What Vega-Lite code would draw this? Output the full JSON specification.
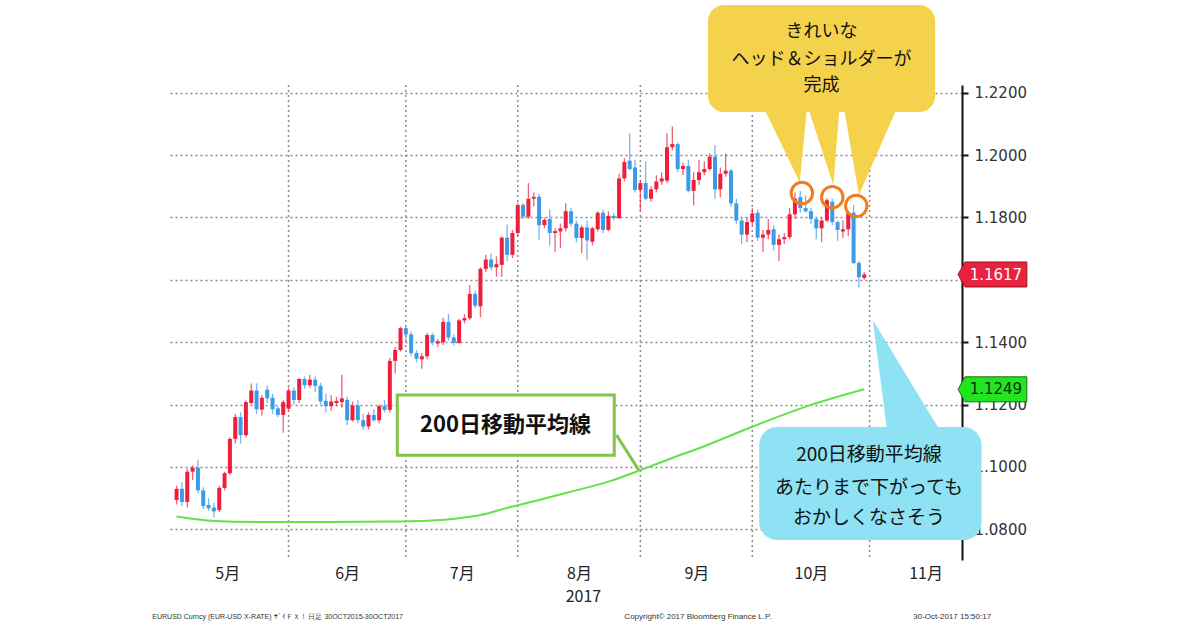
{
  "$schema": "https://vega.github.io/schema/vega-lite/v6.json",
  "width": 792,
  "height": 475,
  "autosize": {"type": "none"},
  "padding": {"left": 170, "top": 85, "right": 238, "bottom": 70},
  "background": "white",
  "config": {
    "view": {"stroke": null},
    "axisX": {
      "ticks": false, "domain": false, "grid": false,
      "labelFont": "Noto Sans CJK JP", "labelFontSize": 16, "labelColor": "#222",
      "labelPadding": 5, "labelFlush": false, "labelOverlap": false,
      "titleFont": "Noto Sans CJK JP", "titleFontSize": 16,
      "titleFontWeight": "normal", "titleColor": "#222", "titlePadding": 7, "titleX": 413
    },
    "axisY": {
      "grid": true, "gridDash": [2, 3], "gridColor": "#8a8a8a", "gridWidth": 1.5,
      "domainColor": "#111", "domainWidth": 2, "tickColor": "#111", "tickSize": 6, "tickWidth": 2,
      "labelFont": "DejaVu Sans", "labelFontSize": 15, "labelColor": "#333", "labelPadding": 6
    }
  },
  "datasets": {
    "candles": [
      {"k":1,"d":"2017-05-02","o":1.0894,"h":1.0940,"l":1.0880,"c":1.0930},
      {"k":2,"d":"2017-05-03","o":1.0930,"h":1.0950,"l":1.0875,"c":1.0888},
      {"k":3,"d":"2017-05-04","o":1.0888,"h":1.0995,"l":1.0870,"c":1.0985},
      {"k":4,"d":"2017-05-05","o":1.0985,"h":1.1005,"l":1.0958,"c":1.0998},
      {"k":5,"d":"2017-05-08","o":1.0998,"h":1.1023,"l":1.0915,"c":1.0925},
      {"k":6,"d":"2017-05-09","o":1.0925,"h":1.0935,"l":1.0865,"c":1.0875},
      {"k":7,"d":"2017-05-10","o":1.0878,"h":1.0900,"l":1.0860,"c":1.0868},
      {"k":8,"d":"2017-05-11","o":1.0870,"h":1.0885,"l":1.0838,"c":1.0858},
      {"k":9,"d":"2017-05-12","o":1.0862,"h":1.0940,"l":1.0855,"c":1.0933},
      {"k":10,"d":"2017-05-15","o":1.0933,"h":1.0985,"l":1.0925,"c":1.0980},
      {"k":11,"d":"2017-05-16","o":1.0980,"h":1.1095,"l":1.0975,"c":1.1090},
      {"k":12,"d":"2017-05-17","o":1.1090,"h":1.1170,"l":1.1075,"c":1.1160},
      {"k":13,"d":"2017-05-18","o":1.1160,"h":1.1175,"l":1.1075,"c":1.1102},
      {"k":14,"d":"2017-05-19","o":1.1102,"h":1.1213,"l":1.1095,"c":1.1208},
      {"k":15,"d":"2017-05-22","o":1.1205,"h":1.1268,"l":1.1200,"c":1.1245},
      {"k":16,"d":"2017-05-23","o":1.1245,"h":1.1268,"l":1.1170,"c":1.1185},
      {"k":17,"d":"2017-05-24","o":1.1184,"h":1.1230,"l":1.1165,"c":1.1222},
      {"k":18,"d":"2017-05-25","o":1.1248,"h":1.1262,"l":1.1205,"c":1.1220},
      {"k":19,"d":"2017-05-26","o":1.1222,"h":1.1235,"l":1.1170,"c":1.1185},
      {"k":20,"d":"2017-05-29","o":1.1188,"h":1.1195,"l":1.1160,"c":1.1167},
      {"k":21,"d":"2017-05-30","o":1.1167,"h":1.1215,"l":1.1110,"c":1.1208},
      {"k":22,"d":"2017-05-31","o":1.1187,"h":1.1255,"l":1.1180,"c":1.1245},
      {"k":23,"d":"2017-06-01","o":1.1245,"h":1.1255,"l":1.1200,"c":1.1215},
      {"k":24,"d":"2017-06-02","o":1.1215,"h":1.1285,"l":1.1205,"c":1.1282},
      {"k":25,"d":"2017-06-05","o":1.1282,"h":1.1290,"l":1.1250,"c":1.1262},
      {"k":26,"d":"2017-06-06","o":1.1262,"h":1.1295,"l":1.1255,"c":1.1280},
      {"k":27,"d":"2017-06-07","o":1.1280,"h":1.1290,"l":1.1240,"c":1.1260},
      {"k":28,"d":"2017-06-08","o":1.1260,"h":1.1270,"l":1.1200,"c":1.1210},
      {"k":29,"d":"2017-06-09","o":1.1212,"h":1.1235,"l":1.1175,"c":1.1195},
      {"k":30,"d":"2017-06-12","o":1.1195,"h":1.1230,"l":1.1180,"c":1.1210},
      {"k":31,"d":"2017-06-13","o":1.1205,"h":1.1225,"l":1.1195,"c":1.1212},
      {"k":32,"d":"2017-06-14","o":1.1208,"h":1.1296,"l":1.1190,"c":1.1220},
      {"k":33,"d":"2017-06-15","o":1.1215,"h":1.1225,"l":1.1135,"c":1.1150},
      {"k":34,"d":"2017-06-16","o":1.1150,"h":1.1210,"l":1.1145,"c":1.1197},
      {"k":35,"d":"2017-06-19","o":1.1197,"h":1.1215,"l":1.1140,"c":1.1150},
      {"k":36,"d":"2017-06-20","o":1.1150,"h":1.1170,"l":1.1120,"c":1.1130},
      {"k":37,"d":"2017-06-21","o":1.1130,"h":1.1175,"l":1.1120,"c":1.1167},
      {"k":38,"d":"2017-06-22","o":1.1167,"h":1.1185,"l":1.1145,"c":1.1150},
      {"k":39,"d":"2017-06-23","o":1.1150,"h":1.1200,"l":1.1140,"c":1.1195},
      {"k":40,"d":"2017-06-26","o":1.1195,"h":1.1215,"l":1.1175,"c":1.1183},
      {"k":41,"d":"2017-06-27","o":1.1183,"h":1.1350,"l":1.1175,"c":1.1340},
      {"k":42,"d":"2017-06-28","o":1.1340,"h":1.1385,"l":1.1300,"c":1.1375},
      {"k":43,"d":"2017-06-29","o":1.1375,"h":1.1450,"l":1.1370,"c":1.1445},
      {"k":44,"d":"2017-06-30","o":1.1445,"h":1.1450,"l":1.1405,"c":1.1425},
      {"k":45,"d":"2017-07-03","o":1.1425,"h":1.1435,"l":1.1355,"c":1.1365},
      {"k":46,"d":"2017-07-04","o":1.1365,"h":1.1375,"l":1.1335,"c":1.1347},
      {"k":47,"d":"2017-07-05","o":1.1345,"h":1.1365,"l":1.1315,"c":1.1355},
      {"k":48,"d":"2017-07-06","o":1.1355,"h":1.1430,"l":1.1345,"c":1.1423},
      {"k":49,"d":"2017-07-07","o":1.1423,"h":1.1430,"l":1.1390,"c":1.1400},
      {"k":50,"d":"2017-07-10","o":1.1396,"h":1.1410,"l":1.1385,"c":1.1403},
      {"k":51,"d":"2017-07-11","o":1.1400,"h":1.1478,"l":1.1390,"c":1.1465},
      {"k":52,"d":"2017-07-12","o":1.1465,"h":1.1490,"l":1.1405,"c":1.1415},
      {"k":53,"d":"2017-07-13","o":1.1415,"h":1.1425,"l":1.1390,"c":1.1398},
      {"k":54,"d":"2017-07-14","o":1.1398,"h":1.1475,"l":1.1395,"c":1.1470},
      {"k":55,"d":"2017-07-17","o":1.1470,"h":1.1490,"l":1.1460,"c":1.1477},
      {"k":56,"d":"2017-07-18","o":1.1477,"h":1.1583,"l":1.1470,"c":1.1555},
      {"k":57,"d":"2017-07-19","o":1.1555,"h":1.1565,"l":1.1510,"c":1.1517},
      {"k":58,"d":"2017-07-20","o":1.1515,"h":1.1640,"l":1.1480,"c":1.1635},
      {"k":59,"d":"2017-07-21","o":1.1635,"h":1.1680,"l":1.1625,"c":1.1665},
      {"k":60,"d":"2017-07-24","o":1.1665,"h":1.1685,"l":1.1630,"c":1.1640},
      {"k":61,"d":"2017-07-25","o":1.1640,"h":1.1675,"l":1.1610,"c":1.1650},
      {"k":62,"d":"2017-07-26","o":1.1648,"h":1.1740,"l":1.1610,"c":1.1735},
      {"k":63,"d":"2017-07-27","o":1.1735,"h":1.1777,"l":1.1660,"c":1.1680},
      {"k":64,"d":"2017-07-28","o":1.1680,"h":1.1760,"l":1.1670,"c":1.1750},
      {"k":65,"d":"2017-07-31","o":1.1750,"h":1.1846,"l":1.1740,"c":1.1840},
      {"k":66,"d":"2017-08-01","o":1.1840,"h":1.1845,"l":1.1795,"c":1.1802},
      {"k":67,"d":"2017-08-02","o":1.1802,"h":1.1910,"l":1.1795,"c":1.1860},
      {"k":68,"d":"2017-08-03","o":1.1860,"h":1.1880,"l":1.1835,"c":1.1866},
      {"k":69,"d":"2017-08-04","o":1.1866,"h":1.1875,"l":1.1728,"c":1.1775},
      {"k":70,"d":"2017-08-07","o":1.1775,"h":1.1800,"l":1.1765,"c":1.1792},
      {"k":71,"d":"2017-08-08","o":1.1795,"h":1.1825,"l":1.1710,"c":1.1750},
      {"k":72,"d":"2017-08-09","o":1.1750,"h":1.1765,"l":1.1690,"c":1.1756},
      {"k":73,"d":"2017-08-10","o":1.1755,"h":1.1780,"l":1.1702,"c":1.1765},
      {"k":74,"d":"2017-08-11","o":1.1765,"h":1.1845,"l":1.1755,"c":1.1820},
      {"k":75,"d":"2017-08-14","o":1.1820,"h":1.1830,"l":1.1770,"c":1.1780},
      {"k":76,"d":"2017-08-15","o":1.1780,"h":1.1790,"l":1.1720,"c":1.1734},
      {"k":77,"d":"2017-08-16","o":1.1734,"h":1.1775,"l":1.1685,"c":1.1768},
      {"k":78,"d":"2017-08-17","o":1.1768,"h":1.1790,"l":1.1665,"c":1.1726},
      {"k":79,"d":"2017-08-18","o":1.1722,"h":1.1770,"l":1.1710,"c":1.1765},
      {"k":80,"d":"2017-08-21","o":1.1762,"h":1.1820,"l":1.1755,"c":1.1815},
      {"k":81,"d":"2017-08-22","o":1.1815,"h":1.1825,"l":1.1750,"c":1.1760},
      {"k":82,"d":"2017-08-23","o":1.1760,"h":1.1820,"l":1.1755,"c":1.1805},
      {"k":83,"d":"2017-08-24","o":1.1805,"h":1.1815,"l":1.1790,"c":1.1798},
      {"k":84,"d":"2017-08-25","o":1.1798,"h":1.1940,"l":1.1795,"c":1.1925},
      {"k":85,"d":"2017-08-28","o":1.1925,"h":1.1990,"l":1.1915,"c":1.1978},
      {"k":86,"d":"2017-08-29","o":1.1982,"h":1.2070,"l":1.1950,"c":1.1955},
      {"k":87,"d":"2017-08-30","o":1.1960,"h":1.1985,"l":1.1880,"c":1.1888},
      {"k":88,"d":"2017-08-31","o":1.1888,"h":1.1920,"l":1.1823,"c":1.1910},
      {"k":89,"d":"2017-09-01","o":1.1910,"h":1.1980,"l":1.1855,"c":1.1860},
      {"k":90,"d":"2017-09-04","o":1.1860,"h":1.1900,"l":1.1850,"c":1.1890},
      {"k":91,"d":"2017-09-05","o":1.1890,"h":1.1935,"l":1.1880,"c":1.1915},
      {"k":92,"d":"2017-09-06","o":1.1915,"h":1.1945,"l":1.1905,"c":1.1925},
      {"k":93,"d":"2017-09-07","o":1.1918,"h":1.2070,"l":1.1910,"c":1.2025},
      {"k":94,"d":"2017-09-08","o":1.2025,"h":1.2092,"l":1.2015,"c":1.2035},
      {"k":95,"d":"2017-09-11","o":1.2035,"h":1.2040,"l":1.1945,"c":1.1955},
      {"k":96,"d":"2017-09-12","o":1.1955,"h":1.1975,"l":1.1935,"c":1.1965},
      {"k":97,"d":"2017-09-13","o":1.1965,"h":1.1985,"l":1.1880,"c":1.1885},
      {"k":98,"d":"2017-09-14","o":1.1885,"h":1.1945,"l":1.1838,"c":1.1920},
      {"k":99,"d":"2017-09-15","o":1.1920,"h":1.1985,"l":1.1905,"c":1.1945},
      {"k":100,"d":"2017-09-18","o":1.1945,"h":1.1980,"l":1.1935,"c":1.1955},
      {"k":101,"d":"2017-09-19","o":1.1955,"h":1.2006,"l":1.1950,"c":1.1995},
      {"k":102,"d":"2017-09-20","o":1.1995,"h":1.2032,"l":1.1860,"c":1.1890},
      {"k":103,"d":"2017-09-21","o":1.1890,"h":1.1960,"l":1.1865,"c":1.1940},
      {"k":104,"d":"2017-09-22","o":1.1940,"h":1.2005,"l":1.1930,"c":1.1950},
      {"k":105,"d":"2017-09-25","o":1.1950,"h":1.1955,"l":1.1835,"c":1.1845},
      {"k":106,"d":"2017-09-26","o":1.1845,"h":1.1860,"l":1.1780,"c":1.1790},
      {"k":107,"d":"2017-09-27","o":1.1790,"h":1.1800,"l":1.1715,"c":1.1745},
      {"k":108,"d":"2017-09-28","o":1.1745,"h":1.1800,"l":1.1720,"c":1.1785},
      {"k":109,"d":"2017-09-29","o":1.1785,"h":1.1830,"l":1.1775,"c":1.1813},
      {"k":110,"d":"2017-10-02","o":1.1815,"h":1.1825,"l":1.1725,"c":1.1735},
      {"k":111,"d":"2017-10-03","o":1.1735,"h":1.1760,"l":1.1690,"c":1.1745},
      {"k":112,"d":"2017-10-04","o":1.1745,"h":1.1795,"l":1.1730,"c":1.1760},
      {"k":113,"d":"2017-10-05","o":1.1762,"h":1.1775,"l":1.1695,"c":1.1712},
      {"k":114,"d":"2017-10-06","o":1.1712,"h":1.1745,"l":1.1660,"c":1.1730},
      {"k":115,"d":"2017-10-09","o":1.1730,"h":1.1750,"l":1.1715,"c":1.1737},
      {"k":116,"d":"2017-10-10","o":1.1737,"h":1.1830,"l":1.1730,"c":1.1810},
      {"k":117,"d":"2017-10-11","o":1.1810,"h":1.1880,"l":1.1795,"c":1.1860},
      {"k":118,"d":"2017-10-12","o":1.1865,"h":1.1885,"l":1.1815,"c":1.1830},
      {"k":119,"d":"2017-10-13","o":1.1830,"h":1.1870,"l":1.1815,"c":1.1820},
      {"k":120,"d":"2017-10-16","o":1.1820,"h":1.1830,"l":1.1780,"c":1.1795},
      {"k":121,"d":"2017-10-17","o":1.1795,"h":1.1800,"l":1.1730,"c":1.1765},
      {"k":122,"d":"2017-10-18","o":1.1765,"h":1.1800,"l":1.1720,"c":1.1790},
      {"k":123,"d":"2017-10-19","o":1.1790,"h":1.1862,"l":1.1785,"c":1.1855},
      {"k":124,"d":"2017-10-20","o":1.1850,"h":1.1860,"l":1.1775,"c":1.1785},
      {"k":125,"d":"2017-10-23","o":1.1785,"h":1.1790,"l":1.1725,"c":1.1760},
      {"k":126,"d":"2017-10-24","o":1.1755,"h":1.1790,"l":1.1735,"c":1.1762},
      {"k":127,"d":"2017-10-25","o":1.1762,"h":1.1820,"l":1.1740,"c":1.1815},
      {"k":128,"d":"2017-10-26","o":1.1815,"h":1.1840,"l":1.1650,"c":1.1654},
      {"k":129,"d":"2017-10-27","o":1.1654,"h":1.1660,"l":1.1575,"c":1.1608},
      {"k":130,"d":"2017-10-30","o":1.1606,"h":1.1625,"l":1.1600,"c":1.1617}
    ],
    "ma200": [
      {"k":1,"v":1.0841},{"k":8,"v":1.0827},{"k":17,"v":1.0824},{"k":30,"v":1.0824},
      {"k":41,"v":1.0825},{"k":48,"v":1.0828},{"k":54,"v":1.0836},{"k":58,"v":1.0846},
      {"k":63,"v":1.0869},{"k":69,"v":1.0894},{"k":75,"v":1.0921},{"k":82,"v":1.0953},
      {"k":88,"v":1.0990},{"k":94,"v":1.1029},{"k":99,"v":1.1060},{"k":109,"v":1.1129},
      {"k":120,"v":1.1199},{"k":130,"v":1.1249}
    ],
    "monthEnds": [{"k":22},{"k":44},{"k":65},{"k":88},{"k":109},{"k":131}]
  },
  "layer": [
    {
      "data": {"name": "monthEnds"},
      "mark": {"type": "rule", "strokeDash": [2, 3], "color": "#8a8a8a", "strokeWidth": 1.5},
      "encoding": {
        "x": {"field": "k", "type": "quantitative", "scale": {"domain": [0.7, 147.4], "nice": false, "zero": false},
          "axis": {"values": [10.5, 33, 54.5, 76.5, 98.5, 120, 141.5], "labelExpr": "['5月','6月','7月','8月','9月','10月','11月'][indexof([10.5,33,54.5,76.5,98.5,120,141.5], datum.value)]", "title": "2017"}}
      }
    },
    {
      "data": {"name": "candles"},
      "mark": {"type": "rule", "strokeWidth": 1.3, "opacity": 0.7},
      "encoding": {
        "x": {"field": "k", "type": "quantitative", "scale": {"domain": [0.7, 147.4], "nice": false, "zero": false},
          "axis": {"values": [10.5, 33, 54.5, 76.5, 98.5, 120, 141.5], "labelExpr": "['5月','6月','7月','8月','9月','10月','11月'][indexof([10.5,33,54.5,76.5,98.5,120,141.5], datum.value)]", "title": "2017"}},
        "y": {"field": "l", "type": "quantitative", "scale": {"domain": [1.07019, 1.22244], "nice": false, "zero": false},
          "axis": {"orient": "right", "values": [1.08, 1.10, 1.12, 1.14, 1.16, 1.18, 1.20, 1.22], "labelExpr": "abs(datum.value - 1.16) < 0.001 ? '' : format(datum.value, '.4f')", "title": null}},
        "y2": {"field": "h"},
        "color": {"condition": {"test": "datum.c >= datum.o", "value": "#EE1E3C"}, "value": "#3A9BE8"}
      }
    },
    {
      "data": {"name": "candles"},
      "mark": {"type": "bar", "size": 4},
      "encoding": {
        "x": {"field": "k", "type": "quantitative", "scale": {"domain": [0.7, 147.4], "nice": false, "zero": false},
          "axis": {"values": [10.5, 33, 54.5, 76.5, 98.5, 120, 141.5], "labelExpr": "['5月','6月','7月','8月','9月','10月','11月'][indexof([10.5,33,54.5,76.5,98.5,120,141.5], datum.value)]", "title": "2017"}},
        "y": {"field": "o", "type": "quantitative", "scale": {"domain": [1.07019, 1.22244], "nice": false, "zero": false},
          "axis": {"orient": "right", "values": [1.08, 1.10, 1.12, 1.14, 1.16, 1.18, 1.20, 1.22], "labelExpr": "abs(datum.value - 1.16) < 0.001 ? '' : format(datum.value, '.4f')", "title": null}},
        "y2": {"field": "c"},
        "color": {"condition": {"test": "datum.c >= datum.o", "value": "#EE1E3C"}, "value": "#3A9BE8"}
      }
    },
    {
      "data": {"name": "ma200"},
      "mark": {"type": "line", "color": "#62E24C", "strokeWidth": 2, "interpolate": "monotone"},
      "encoding": {
        "x": {"field": "k", "type": "quantitative", "scale": {"domain": [0.7, 147.4], "nice": false, "zero": false},
          "axis": {"values": [10.5, 33, 54.5, 76.5, 98.5, 120, 141.5], "labelExpr": "['5月','6月','7月','8月','9月','10月','11月'][indexof([10.5,33,54.5,76.5,98.5,120,141.5], datum.value)]", "title": "2017"}},
        "y": {"field": "v", "type": "quantitative", "scale": {"domain": [1.07019, 1.22244], "nice": false, "zero": false},
          "axis": {"orient": "right", "values": [1.08, 1.10, 1.12, 1.14, 1.16, 1.18, 1.20, 1.22], "labelExpr": "abs(datum.value - 1.16) < 0.001 ? '' : format(datum.value, '.4f')", "title": null}}
      }
    },
    {
      "data": {"values": [{"k": 83.5, "v": 1.1103}, {"k": 87.7, "v": 1.0990}]},
      "mark": {"type": "line", "color": "#84C447", "strokeWidth": 3},
      "encoding": {
        "x": {"field": "k", "type": "quantitative", "scale": {"domain": [0.7, 147.4], "nice": false, "zero": false},
          "axis": {"values": [10.5, 33, 54.5, 76.5, 98.5, 120, 141.5], "labelExpr": "['5月','6月','7月','8月','9月','10月','11月'][indexof([10.5,33,54.5,76.5,98.5,120,141.5], datum.value)]", "title": "2017"}},
        "y": {"field": "v", "type": "quantitative", "scale": {"domain": [1.07019, 1.22244], "nice": false, "zero": false},
          "axis": {"orient": "right", "values": [1.08, 1.10, 1.12, 1.14, 1.16, 1.18, 1.20, 1.22], "labelExpr": "abs(datum.value - 1.16) < 0.001 ? '' : format(datum.value, '.4f')", "title": null}}
      }
    },
    {
      "data": {"values": [{"k": 42.4, "k2": 83.1, "v": 1.1038, "v2": 1.1231}]},
      "mark": {"type": "rect", "fill": "white", "stroke": "#84C447", "strokeWidth": 3},
      "encoding": {
        "x": {"field": "k", "type": "quantitative", "scale": {"domain": [0.7, 147.4], "nice": false, "zero": false},
          "axis": {"values": [10.5, 33, 54.5, 76.5, 98.5, 120, 141.5], "labelExpr": "['5月','6月','7月','8月','9月','10月','11月'][indexof([10.5,33,54.5,76.5,98.5,120,141.5], datum.value)]", "title": "2017"}},
        "x2": {"field": "k2"},
        "y": {"field": "v", "type": "quantitative", "scale": {"domain": [1.07019, 1.22244], "nice": false, "zero": false},
          "axis": {"orient": "right", "values": [1.08, 1.10, 1.12, 1.14, 1.16, 1.18, 1.20, 1.22], "labelExpr": "abs(datum.value - 1.16) < 0.001 ? '' : format(datum.value, '.4f')", "title": null}},
        "y2": {"field": "v2"}
      }
    },
    {
      "data": {"values": [{"t": "200日移動平均線", "k": 62.7, "v": 1.1135}]},
      "mark": {"type": "text", "font": "Noto Sans CJK JP", "fontSize": 22, "fontWeight": "bold", "color": "#111", "align": "center", "baseline": "middle"},
      "encoding": {
        "x": {"field": "k", "type": "quantitative", "scale": {"domain": [0.7, 147.4], "nice": false, "zero": false},
          "axis": {"values": [10.5, 33, 54.5, 76.5, 98.5, 120, 141.5], "labelExpr": "['5月','6月','7月','8月','9月','10月','11月'][indexof([10.5,33,54.5,76.5,98.5,120,141.5], datum.value)]", "title": "2017"}},
        "y": {"field": "v", "type": "quantitative", "scale": {"domain": [1.07019, 1.22244], "nice": false, "zero": false},
          "axis": {"orient": "right", "values": [1.08, 1.10, 1.12, 1.14, 1.16, 1.18, 1.20, 1.22], "labelExpr": "abs(datum.value - 1.16) < 0.001 ? '' : format(datum.value, '.4f')", "title": null}},
        "text": {"field": "t"}
      }
    },
    {
      "data": {"values": [
        {"g": 1, "v": 1.2160, "k": 110.9, "k2": 119.3}, {"g": 1, "v": 1.1913, "k": 117.9, "k2": 117.9},
        {"g": 2, "v": 1.2160, "k": 119.3, "k2": 125.4}, {"g": 2, "v": 1.1904, "k": 124.2, "k2": 124.2},
        {"g": 3, "v": 1.2160, "k": 126.1, "k2": 136.4}, {"g": 3, "v": 1.1872, "k": 129.0, "k2": 129.0}
      ]},
      "mark": {"type": "area", "orient": "horizontal", "color": "#F5D24B", "opacity": 1},
      "encoding": {
        "y": {"field": "v", "type": "quantitative", "scale": {"domain": [1.07019, 1.22244], "nice": false, "zero": false},
          "axis": {"orient": "right", "values": [1.08, 1.10, 1.12, 1.14, 1.16, 1.18, 1.20, 1.22], "labelExpr": "abs(datum.value - 1.16) < 0.001 ? '' : format(datum.value, '.4f')", "title": null}},
        "x": {"field": "k", "type": "quantitative", "scale": {"domain": [0.7, 147.4], "nice": false, "zero": false},
          "axis": {"values": [10.5, 33, 54.5, 76.5, 98.5, 120, 141.5], "labelExpr": "['5月','6月','7月','8月','9月','10月','11月'][indexof([10.5,33,54.5,76.5,98.5,120,141.5], datum.value)]", "title": "2017"}},
        "x2": {"field": "k2"},
        "detail": {"field": "g"}
      }
    },
    {
      "data": {"values": [{"k": 100.7, "k2": 143.3, "v": 1.2138, "v2": 1.2481}]},
      "mark": {"type": "rect", "fill": "#F5D24B", "cornerRadius": 16},
      "encoding": {
        "x": {"field": "k", "type": "quantitative", "scale": {"domain": [0.7, 147.4], "nice": false, "zero": false},
          "axis": {"values": [10.5, 33, 54.5, 76.5, 98.5, 120, 141.5], "labelExpr": "['5月','6月','7月','8月','9月','10月','11月'][indexof([10.5,33,54.5,76.5,98.5,120,141.5], datum.value)]", "title": "2017"}},
        "x2": {"field": "k2"},
        "y": {"field": "v", "type": "quantitative", "scale": {"domain": [1.07019, 1.22244], "nice": false, "zero": false},
          "axis": {"orient": "right", "values": [1.08, 1.10, 1.12, 1.14, 1.16, 1.18, 1.20, 1.22], "labelExpr": "abs(datum.value - 1.16) < 0.001 ? '' : format(datum.value, '.4f')", "title": null}},
        "y2": {"field": "v2"}
      }
    },
    {
      "data": {"values": [
        {"t": "きれいな", "k": 122.0, "v": 1.2394},
        {"t": "ヘッド＆ショルダーが", "k": 122.0, "v": 1.2304},
        {"t": "完成", "k": 122.0, "v": 1.2222}
      ]},
      "mark": {"type": "text", "font": "Noto Sans CJK JP", "fontSize": 18, "color": "#111", "align": "center", "baseline": "middle"},
      "encoding": {
        "x": {"field": "k", "type": "quantitative", "scale": {"domain": [0.7, 147.4], "nice": false, "zero": false},
          "axis": {"values": [10.5, 33, 54.5, 76.5, 98.5, 120, 141.5], "labelExpr": "['5月','6月','7月','8月','9月','10月','11月'][indexof([10.5,33,54.5,76.5,98.5,120,141.5], datum.value)]", "title": "2017"}},
        "y": {"field": "v", "type": "quantitative", "scale": {"domain": [1.07019, 1.22244], "nice": false, "zero": false},
          "axis": {"orient": "right", "values": [1.08, 1.10, 1.12, 1.14, 1.16, 1.18, 1.20, 1.22], "labelExpr": "abs(datum.value - 1.16) < 0.001 ? '' : format(datum.value, '.4f')", "title": null}},
        "text": {"field": "t"}
      }
    },
    {
      "data": {"values": [{"k": 118.3, "v": 1.1878}, {"k": 124.0, "v": 1.1865}, {"k": 128.5, "v": 1.1837}]},
      "mark": {"type": "point", "shape": "circle", "filled": false, "stroke": "#F07C1C", "strokeWidth": 3, "size": 460, "opacity": 1},
      "encoding": {
        "x": {"field": "k", "type": "quantitative", "scale": {"domain": [0.7, 147.4], "nice": false, "zero": false},
          "axis": {"values": [10.5, 33, 54.5, 76.5, 98.5, 120, 141.5], "labelExpr": "['5月','6月','7月','8月','9月','10月','11月'][indexof([10.5,33,54.5,76.5,98.5,120,141.5], datum.value)]", "title": "2017"}},
        "y": {"field": "v", "type": "quantitative", "scale": {"domain": [1.07019, 1.22244], "nice": false, "zero": false},
          "axis": {"orient": "right", "values": [1.08, 1.10, 1.12, 1.14, 1.16, 1.18, 1.20, 1.22], "labelExpr": "abs(datum.value - 1.16) < 0.001 ? '' : format(datum.value, '.4f')", "title": null}}
      }
    },
    {
      "data": {"values": [
        {"v": 1.1471, "k": 131.6, "k2": 131.6},
        {"v": 1.1100, "k": 134.4, "k2": 144.8}
      ]},
      "mark": {"type": "area", "orient": "horizontal", "color": "#8EE2F4", "opacity": 1},
      "encoding": {
        "y": {"field": "v", "type": "quantitative", "scale": {"domain": [1.07019, 1.22244], "nice": false, "zero": false},
          "axis": {"orient": "right", "values": [1.08, 1.10, 1.12, 1.14, 1.16, 1.18, 1.20, 1.22], "labelExpr": "abs(datum.value - 1.16) < 0.001 ? '' : format(datum.value, '.4f')", "title": null}},
        "x": {"field": "k", "type": "quantitative", "scale": {"domain": [0.7, 147.4], "nice": false, "zero": false},
          "axis": {"values": [10.5, 33, 54.5, 76.5, 98.5, 120, 141.5], "labelExpr": "['5月','6月','7月','8月','9月','10月','11月'][indexof([10.5,33,54.5,76.5,98.5,120,141.5], datum.value)]", "title": "2017"}},
        "x2": {"field": "k2"}
      }
    },
    {
      "data": {"values": [{"k": 110.3, "k2": 152.0, "v": 1.0766, "v2": 1.1128}]},
      "mark": {"type": "rect", "fill": "#8EE2F4", "cornerRadius": 18},
      "encoding": {
        "x": {"field": "k", "type": "quantitative", "scale": {"domain": [0.7, 147.4], "nice": false, "zero": false},
          "axis": {"values": [10.5, 33, 54.5, 76.5, 98.5, 120, 141.5], "labelExpr": "['5月','6月','7月','8月','9月','10月','11月'][indexof([10.5,33,54.5,76.5,98.5,120,141.5], datum.value)]", "title": "2017"}},
        "x2": {"field": "k2"},
        "y": {"field": "v", "type": "quantitative", "scale": {"domain": [1.07019, 1.22244], "nice": false, "zero": false},
          "axis": {"orient": "right", "values": [1.08, 1.10, 1.12, 1.14, 1.16, 1.18, 1.20, 1.22], "labelExpr": "abs(datum.value - 1.16) < 0.001 ? '' : format(datum.value, '.4f')", "title": null}},
        "y2": {"field": "v2"}
      }
    },
    {
      "data": {"values": [
        {"t": "200日移動平均線", "k": 130.9, "v": 1.1038},
        {"t": "あたりまで下がっても", "k": 130.9, "v": 1.0933},
        {"t": "おかしくなさそう", "k": 130.9, "v": 1.0837}
      ]},
      "mark": {"type": "text", "font": "Noto Sans CJK JP", "fontSize": 19, "color": "#111", "align": "center", "baseline": "middle"},
      "encoding": {
        "x": {"field": "k", "type": "quantitative", "scale": {"domain": [0.7, 147.4], "nice": false, "zero": false},
          "axis": {"values": [10.5, 33, 54.5, 76.5, 98.5, 120, 141.5], "labelExpr": "['5月','6月','7月','8月','9月','10月','11月'][indexof([10.5,33,54.5,76.5,98.5,120,141.5], datum.value)]", "title": "2017"}},
        "y": {"field": "v", "type": "quantitative", "scale": {"domain": [1.07019, 1.22244], "nice": false, "zero": false},
          "axis": {"orient": "right", "values": [1.08, 1.10, 1.12, 1.14, 1.16, 1.18, 1.20, 1.22], "labelExpr": "abs(datum.value - 1.16) < 0.001 ? '' : format(datum.value, '.4f')", "title": null}},
        "text": {"field": "t"}
      }
    },
    {
      "data": {"values": [
        {"tag": "red", "k": 147.6, "v": 1.1617, "v2": 1.1617},
        {"tag": "red", "k": 148.9, "v": 1.1577, "v2": 1.1657},
        {"tag": "red", "k": 160.5, "v": 1.1577, "v2": 1.1657},
        {"tag": "green", "k": 147.6, "v": 1.1249, "v2": 1.1249},
        {"tag": "green", "k": 148.9, "v": 1.1209, "v2": 1.1289},
        {"tag": "green", "k": 160.5, "v": 1.1209, "v2": 1.1289}
      ]},
      "mark": {"type": "area", "opacity": 1, "strokeWidth": 1},
      "encoding": {
        "x": {"field": "k", "type": "quantitative", "scale": {"domain": [0.7, 147.4], "nice": false, "zero": false},
          "axis": {"values": [10.5, 33, 54.5, 76.5, 98.5, 120, 141.5], "labelExpr": "['5月','6月','7月','8月','9月','10月','11月'][indexof([10.5,33,54.5,76.5,98.5,120,141.5], datum.value)]", "title": "2017"}},
        "y": {"field": "v", "type": "quantitative", "scale": {"domain": [1.07019, 1.22244], "nice": false, "zero": false},
          "axis": {"orient": "right", "values": [1.08, 1.10, 1.12, 1.14, 1.16, 1.18, 1.20, 1.22], "labelExpr": "abs(datum.value - 1.16) < 0.001 ? '' : format(datum.value, '.4f')", "title": null}},
        "y2": {"field": "v2"},
        "detail": {"field": "tag"},
        "fill": {"field": "tag", "type": "nominal", "scale": {"domain": ["red", "green"], "range": ["#E8233F", "#22E41F"]}, "legend": null},
        "stroke": {"field": "tag", "type": "nominal", "scale": {"domain": ["red", "green"], "range": ["#9a1020", "#1a6a1a"]}, "legend": null}
      }
    },
    {
      "data": {"values": [
        {"t": "1.1617", "k": 154.7, "v": 1.1617, "tag": "red"},
        {"t": "1.1249", "k": 154.7, "v": 1.1249, "tag": "green"}
      ]},
      "mark": {"type": "text", "font": "DejaVu Sans", "fontSize": 15, "align": "center", "baseline": "middle"},
      "encoding": {
        "x": {"field": "k", "type": "quantitative", "scale": {"domain": [0.7, 147.4], "nice": false, "zero": false},
          "axis": {"values": [10.5, 33, 54.5, 76.5, 98.5, 120, 141.5], "labelExpr": "['5月','6月','7月','8月','9月','10月','11月'][indexof([10.5,33,54.5,76.5,98.5,120,141.5], datum.value)]", "title": "2017"}},
        "y": {"field": "v", "type": "quantitative", "scale": {"domain": [1.07019, 1.22244], "nice": false, "zero": false},
          "axis": {"orient": "right", "values": [1.08, 1.10, 1.12, 1.14, 1.16, 1.18, 1.20, 1.22], "labelExpr": "abs(datum.value - 1.16) < 0.001 ? '' : format(datum.value, '.4f')", "title": null}},
        "text": {"field": "t"},
        "color": {"field": "tag", "type": "nominal", "scale": {"domain": ["red", "green"], "range": ["#ffffff", "#0b2e0b"]}, "legend": null}
      }
    },
    {
      "data": {"values": [
        {"t": "EURUSD Curncy (EUR-USD X-RATE) ｻﾞｲＦＸ！   日足 30OCT2015-30OCT2017", "k": -3.56, "v": 1.0519}
      ]},
      "mark": {"type": "text", "font": "Liberation Sans", "fontSize": 7, "color": "#333", "align": "left", "baseline": "middle"},
      "encoding": {
        "x": {"field": "k", "type": "quantitative", "scale": {"domain": [0.7, 147.4], "nice": false, "zero": false},
          "axis": {"values": [10.5, 33, 54.5, 76.5, 98.5, 120, 141.5], "labelExpr": "['5月','6月','7月','8月','9月','10月','11月'][indexof([10.5,33,54.5,76.5,98.5,120,141.5], datum.value)]", "title": "2017"}},
        "y": {"field": "v", "type": "quantitative", "scale": {"domain": [1.07019, 1.22244], "nice": false, "zero": false},
          "axis": {"orient": "right", "values": [1.08, 1.10, 1.12, 1.14, 1.16, 1.18, 1.20, 1.22], "labelExpr": "abs(datum.value - 1.16) < 0.001 ? '' : format(datum.value, '.4f')", "title": null}},
        "text": {"field": "t"}
      }
    },
    {
      "data": {"values": [
        {"t": "Copyright© 2017 Bloomberg Finance L.P.", "k": 85.0, "v": 1.0519},
        {"t": "30-Oct-2017 15:50:17", "k": 139.2, "v": 1.0519}
      ]},
      "mark": {"type": "text", "font": "Liberation Sans", "fontSize": 8, "color": "#333", "align": "left", "baseline": "middle"},
      "encoding": {
        "x": {"field": "k", "type": "quantitative", "scale": {"domain": [0.7, 147.4], "nice": false, "zero": false},
          "axis": {"values": [10.5, 33, 54.5, 76.5, 98.5, 120, 141.5], "labelExpr": "['5月','6月','7月','8月','9月','10月','11月'][indexof([10.5,33,54.5,76.5,98.5,120,141.5], datum.value)]", "title": "2017"}},
        "y": {"field": "v", "type": "quantitative", "scale": {"domain": [1.07019, 1.22244], "nice": false, "zero": false},
          "axis": {"orient": "right", "values": [1.08, 1.10, 1.12, 1.14, 1.16, 1.18, 1.20, 1.22], "labelExpr": "abs(datum.value - 1.16) < 0.001 ? '' : format(datum.value, '.4f')", "title": null}},
        "text": {"field": "t"}
      }
    }
  ]
}
